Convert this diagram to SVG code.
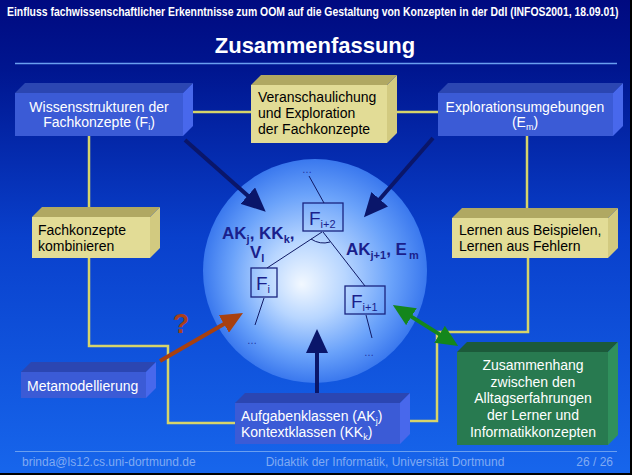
<svg xmlns="http://www.w3.org/2000/svg" width="632" height="475" viewBox="0 0 632 475">
<defs>
<linearGradient id="bg" x1="0" y1="0" x2="0" y2="1">
<stop offset="0" stop-color="#000a80"/>
<stop offset="0.15" stop-color="#001690"/>
<stop offset="0.5" stop-color="#0940cc"/>
<stop offset="1" stop-color="#1766ec"/>
</linearGradient>
<radialGradient id="sph" cx="0.5" cy="0.5" r="0.5" fx="0.44" fy="0.56">
<stop offset="0" stop-color="#f2f8ff"/>
<stop offset="0.35" stop-color="#b8d6ff"/>
<stop offset="0.72" stop-color="#6aa2fa"/>
<stop offset="1" stop-color="#3a78ee"/>
</radialGradient>
<marker id="hN" markerUnits="userSpaceOnUse" markerWidth="24" markerHeight="22" refX="11" refY="11" orient="auto"><path d="M0,0 L24,11 L0,22 z" fill="#0a166a"/></marker>
<marker id="hB" markerUnits="userSpaceOnUse" markerWidth="22" markerHeight="20" refX="10" refY="10" orient="auto"><path d="M0,0 L22,10 L0,20 z" fill="#a8400f"/></marker>
<marker id="hG" markerUnits="userSpaceOnUse" markerWidth="22" markerHeight="20" refX="10" refY="10" orient="auto-start-reverse"><path d="M0,0 L22,10 L0,20 z" fill="#14861c"/></marker>
<style>
text{font-family:"Liberation Sans",Arial,sans-serif}
.bf{fill:#3b5bd6}.bt{fill:#2b46b2}.br{fill:#4868ec}
.yf{fill:#e2dc96}.yt{fill:#b0a862}.yr{fill:#d2ca80}
.gf{fill:#287a50}.gt{fill:#1c5a3a}.gr{fill:#30905c}
.wt{fill:#ffffff;font-size:14px}
.kt{fill:#000000;font-size:14px}
.yl{fill:none;stroke:#d6d46a;stroke-width:2.5}
.sp{fill:#1a1f8c}
.fb{fill:none;stroke:#1a2480;stroke-width:1.3}
.il{stroke:#101a66;stroke-width:1;fill:none}
.dots{fill:#2030a0;font-size:10px}
.ft{fill:#80aaf2;font-size:12px}
</style>
</defs>
<rect width="632" height="475" fill="url(#bg)"/>
<line x1="0" y1="474" x2="632" y2="474" stroke="#000" stroke-width="2"/>
<line x1="631" y1="0" x2="631" y2="475" stroke="#000" stroke-width="2"/>

<g id="header">
<text transform="translate(7 16) scale(0.78 1)" x="0" y="0" fill="#fff" font-size="12" font-weight="bold" textLength="784" lengthAdjust="spacingAndGlyphs">Einfluss fachwissenschaftlicher Erkenntnisse zum OOM auf die Gestaltung von Konzepten in der DdI (INFOS2001, 18.09.01)</text>
<text x="315" y="53" fill="#fff" font-size="22" font-weight="bold" text-anchor="middle">Zusammenfassung</text>
<line x1="15" y1="63.5" x2="617" y2="63.5" stroke="#6a9ff0" stroke-width="1.3"/>
</g>

<g id="sphere">
<circle cx="315" cy="271" r="112" fill="url(#sph)"/>
<g id="inner">
<rect class="fb" x="303" y="203" width="40" height="28"/>
<rect class="fb" x="251" y="268" width="26" height="29"/>
<rect class="fb" x="345" y="286" width="40" height="28"/>
<path class="il" d="M324,203 L309,176 M322,232 L267,268 M323,232 L365,286 M311,239 Q320,245 330,242 M264,298 L255,325 M366,315 L372,338"/>
<text class="dots" x="302" y="173">…</text>
<text class="dots" x="247" y="344">…</text>
<text class="dots" x="364" y="356">…</text>
<text class="sp" x="309" y="225" font-size="19">F<tspan font-size="11" dy="3">i+2</tspan></text>
<text class="sp" x="256" y="290" font-size="19">F<tspan font-size="11" dy="3">i</tspan></text>
<text class="sp" x="351" y="308" font-size="19">F<tspan font-size="11" dy="3">i+1</tspan></text>
<text class="sp" x="222" y="239" font-size="17" font-weight="bold">AK<tspan font-size="11" dy="4">j</tspan><tspan dy="-4">, KK</tspan><tspan font-size="11" dy="4">k</tspan><tspan dy="-4">,</tspan></text>
<text class="sp" x="250" y="258" font-size="17" font-weight="bold">V<tspan font-size="11" dy="4">l</tspan></text>
<text class="sp" x="346" y="255" font-size="17" font-weight="bold">AK<tspan font-size="11" dy="4">j+1</tspan><tspan dy="-4">, E</tspan><tspan font-size="11" dy="4" dx="2">m</tspan></text>
</g>
</g>

<g id="connectors">
<path class="yl" d="M190,112 L252,112"/>
<path class="yl" d="M393,112 L439,112"/>
<path class="yl" d="M89,136 L89,207"/>
<path class="yl" d="M89,258 L89,346 L168,346 L168,423 L236,423"/>
<path class="yl" d="M527,136 L527,208"/>
<path class="yl" d="M528,258 L528,332 L437,332 L437,421 L408,421"/>
<line x1="185" y1="140" x2="256" y2="203" stroke="#0a166a" stroke-width="4" marker-end="url(#hN)"/>
<line x1="433" y1="138" x2="372.5" y2="207.5" stroke="#0a166a" stroke-width="4" marker-end="url(#hN)"/>
<line x1="317" y1="397" x2="317" y2="342" stroke="#0a166a" stroke-width="4" marker-end="url(#hN)"/>
<line x1="160" y1="361" x2="232.6" y2="319" stroke="#a8400f" stroke-width="4" marker-end="url(#hB)"/>
<line x1="403" y1="311.4" x2="448" y2="339.6" stroke="#14861c" stroke-width="4" marker-start="url(#hG)" marker-end="url(#hG)"/>
<text x="181" y="333" fill="#a8401a" font-size="27" font-weight="bold" text-anchor="middle">?</text>
</g>

<g id="n-wissen">
<polygon class="bt" points="15,93 25,83 193,83 183,93"/>
<polygon class="br" points="183,93 193,83 193,126 183,136"/>
<rect class="bf" x="15" y="93" width="168" height="43"/>
<text class="wt" x="99" y="112" text-anchor="middle">Wissensstrukturen der</text>
<text class="wt" x="99" y="127" text-anchor="middle">Fachkonzepte (F<tspan font-size="9" dy="3">i</tspan><tspan dy="-3">)</tspan></text>
</g>

<g id="n-veranschaulichung">
<polygon class="yt" points="251,85 261,75 397,75 387,85"/>
<polygon class="yr" points="387,85 397,75 397,133 387,143"/>
<rect class="yf" x="251" y="85" width="136" height="58"/>
<text class="kt" x="258" y="102">Veranschaulichung</text>
<text class="kt" x="258" y="118">und Exploration</text>
<text class="kt" x="258" y="134">der Fachkonzepte</text>
</g>

<g id="n-exploration">
<polygon class="bt" points="438,93 448,83 623,83 613,93"/>
<polygon class="br" points="613,93 623,83 623,126 613,136"/>
<rect class="bf" x="438" y="93" width="175" height="43"/>
<text class="wt" x="525" y="112" text-anchor="middle">Explorationsumgebungen</text>
<text class="wt" x="525" y="127" text-anchor="middle">(E<tspan font-size="9" dy="3">m</tspan><tspan dy="-3">)</tspan></text>
</g>

<g id="n-kombinieren">
<polygon class="yt" points="32,217 42,207 160,207 150,217"/>
<polygon class="yr" points="150,217 160,207 160,248 150,258"/>
<rect class="yf" x="32" y="217" width="118" height="41"/>
<text class="kt" x="38" y="235">Fachkonzepte</text>
<text class="kt" x="38" y="251">kombinieren</text>
</g>

<g id="n-lernen">
<polygon class="yt" points="452,218 462,208 618,208 608,218"/>
<polygon class="yr" points="608,218 618,208 618,248 608,258"/>
<rect class="yf" x="452" y="218" width="156" height="40"/>
<text class="kt" x="459" y="235">Lernen aus Beispielen,</text>
<text class="kt" x="459" y="251">Lernen aus Fehlern</text>
</g>

<g id="n-meta">
<polygon class="bt" points="21,372 31,362 156,362 146,372"/>
<polygon class="br" points="146,372 156,362 156,388 146,398"/>
<rect class="bf" x="21" y="372" width="125" height="26"/>
<text class="wt" x="27" y="391">Metamodellierung</text>
</g>

<g id="n-aufgaben">
<polygon class="bt" points="235,403 245,393 410,393 400,403"/>
<polygon class="br" points="400,403 410,393 410,434 400,444"/>
<rect class="bf" x="235" y="403" width="165" height="41"/>
<text class="wt" x="241" y="421">Aufgabenklassen (AK<tspan font-size="9" dy="3">j</tspan><tspan dy="-3">)</tspan></text>
<text class="wt" x="241" y="437">Kontextklassen (KK<tspan font-size="9" dy="3">k</tspan><tspan dy="-3">)</tspan></text>
</g>

<g id="n-zusammenhang">
<polygon class="gt" points="457,352 467,342 618,342 608,352"/>
<polygon class="gr" points="608,352 618,342 618,435 608,445"/>
<rect class="gf" x="457" y="352" width="151" height="93"/>
<text class="wt" x="533" y="370" text-anchor="middle">Zusammenhang</text>
<text class="wt" x="533" y="387" text-anchor="middle">zwischen den</text>
<text class="wt" x="533" y="403" text-anchor="middle">Alltagserfahrungen</text>
<text class="wt" x="533" y="420" text-anchor="middle">der Lerner und</text>
<text class="wt" x="533" y="437" text-anchor="middle">Informatikkonzepten</text>
</g>

<g id="footer">
<line x1="15" y1="451.5" x2="617" y2="451.5" stroke="#6a9ff0" stroke-width="1.2"/>
<text class="ft" x="22" y="466">brinda@ls12.cs.uni-dortmund.de</text>
<text class="ft" x="385" y="466" text-anchor="middle">Didaktik der Informatik, Universität Dortmund</text>
<text class="ft" x="613" y="466" text-anchor="end">26 / 26</text>
</g>
</svg>
